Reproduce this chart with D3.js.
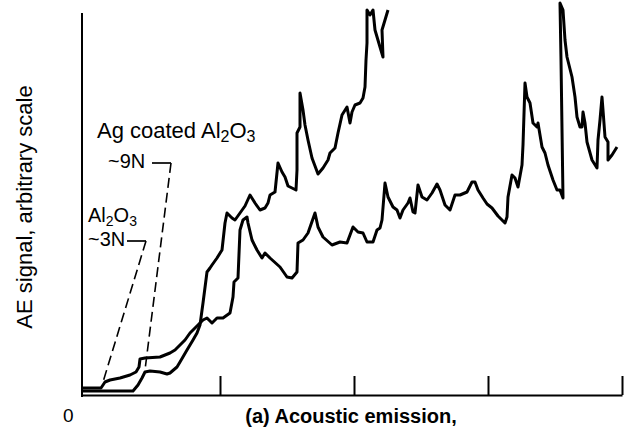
<!DOCTYPE html>
<html>
<head>
<meta charset="utf-8">
<title>AE signal</title>
<script src="https://d3js.org/d3.v7.min.js"></script>
<style>
  body { margin: 0; background: #fff; }
  text { font-family: "Liberation Sans", Arial, Helvetica, sans-serif; fill: #000; }
</style>
</head>
<body>
<div id="chart"></div>
<script>

// データ (x: 時間 arbitrary, y: AE signal arbitrary)
var xTicks = [138, 272, 406, 540];

// Al2O3 (~3N)
var al2o3Signal = [
  [1,7],[19,7],[23,13],[28,15],[38,17],[48,20],[54,23],[57,28],[58,36],[63,37],
  [78,38],[88,42],[93,45],[98,50],[103,55],[108,62],[113,67],[118,72],[121,75],[125,77],
  [130,72],[135,77],[141,77],[148,82],[151,98],[152,113],[156,117],[158,165],[161,175],[165,178],
  [166,172],[170,155],[175,145],[180,137],[183,142],[188,137],[198,128],[205,118],[210,117],[215,123],
  [216,152],[221,155],[226,162],[233,182],[236,168],[241,158],[250,150],[258,153],[265,152],[271,168],
  [276,163],[281,162],[285,153],[291,153],[295,165],[298,167],[300,175],[303,212],[306,198],[311,188],
  [315,185],[318,177],[321,185],[326,192],[328,197],[331,183],[333,182],[336,210],[340,198],[345,195],
  [350,202],[355,211],[358,205],[363,190],[368,185],[373,200],[378,200],[385,203],[390,213],[393,213],
  [396,205],[401,197],[405,191],[410,187],[416,179],[423,172],[425,178],[426,198],[430,220],[433,217],
  [436,208],[440,230],[441,250],[443,312],[445,298],[448,292],[451,272],[455,268],[456,272],[460,248],
  [463,242],[466,230],[471,215],[475,205],[478,205],[481,197],[479,335],[478,392],[481,385],[483,355],
  [485,338],[490,318],[493,298],[495,278],[498,268],[500,268],[501,283],[503,272],[505,253],[510,235],
  [515,227],[516,255],[518,275],[520,298],[521,285],[523,258],[526,253],[526,235],[530,240],[535,248]
];

// Ag coated Al2O3 (~9N)
var agCoatedSignal = [
  [1,4],[51,4],[56,10],[60,17],[63,23],[68,24],[78,23],[85,21],[88,22],[95,28],
  [98,33],[105,45],[111,55],[115,62],[118,70],[121,92],[125,123],[128,127],[130,130],[135,137],
  [140,145],[143,172],[145,182],[150,177],[153,175],[158,182],[163,189],[168,200],[173,192],[178,185],
  [183,187],[186,192],[188,200],[193,203],[196,232],[200,223],[203,218],[206,209],[210,207],[214,205],
  [215,225],[215,262],[218,268],[218,302],[221,285],[223,270],[226,255],[230,237],[236,221],[241,227],
  [246,235],[248,242],[253,247],[256,262],[260,280],[265,288],[268,272],[270,283],[273,290],[278,292],
  [281,297],[283,308],[284,335],[285,352],[285,385],[288,380],[291,385],[293,365],[298,348],[301,338],
  [300,365],[303,375],[306,385]
];

// 注記 (ラベルと破線)
var labels = [
  {parts: [["Ag coated Al", 0], ["2", 1], ["O", 0], ["3", 1]], x: 15, y: 257, size: 22},
  {parts: [["~9N", 0]], x: 26, y: 227, size: 20},
  {parts: [["Al", 0], ["2", 1], ["O", 0], ["3", 1]], x: 6, y: 173, size: 20},
  {parts: [["~3N", 0]], x: 6, y: 149, size: 20}
];
var leaders = [
  {bar: [[70,232],[89,232]], dash: [[89,232],[63,25]]},
  {bar: [[45,154],[64,154]], dash: [[64,154],[21,13]]}
];

var width = 635;
var height = 441;

var x = d3.scaleLinear().domain([0, 540]).range([82, 622]);
var y = d3.scaleLinear().domain([0, 390]).range([395, 5]);

var svg = d3.select("#chart")
  .append("svg")
  .attr("width", width)
  .attr("height", height);

// 軸
svg.append("line")
  .attr("x1", x(0)).attr("x2", x(0))
  .attr("y1", y(-2)).attr("y2", y(382))
  .attr("stroke", "#000").attr("stroke-width", 2);

var xAxis = d3.axisBottom(x)
  .tickValues(xTicks)
  .tickSizeInner(-19)
  .tickSizeOuter(0)
  .tickFormat("");

var gx = svg.append("g")
  .attr("transform", `translate(0,${y(0)})`)
  .call(xAxis);
gx.select(".domain").attr("stroke", "#000").attr("stroke-width", 2);
gx.selectAll(".tick line").attr("stroke", "#000").attr("stroke-width", 2);

// 曲線
var line = d3.line()
  .x(d => x(d[0]))
  .y(d => y(d[1]));

[al2o3Signal, agCoatedSignal].forEach(function(series) {
  svg.append("path")
    .datum(series)
    .attr("d", line)
    .attr("fill", "none")
    .attr("stroke", "#000")
    .attr("stroke-width", 3)
    .attr("stroke-linejoin", "round");
});

// 破線
leaders.forEach(function(l) {
  svg.append("path").datum(l.bar).attr("d", line)
    .attr("fill", "none").attr("stroke", "#000").attr("stroke-width", 1.7);
  svg.append("path").datum(l.dash).attr("d", line)
    .attr("fill", "none").attr("stroke", "#000").attr("stroke-width", 1.6)
    .attr("stroke-dasharray", "10,5");
});

// ラベル
labels.forEach(function(lb) {
  var t = svg.append("text")
    .attr("x", x(lb.x))
    .attr("y", y(lb.y))
    .style("font-size", lb.size + "px");
  var shift = 0;
  lb.parts.forEach(function(p) {
    var dy = (p[1] ? 4 : 0) - shift;
    shift = p[1] ? 4 : 0;
    t.append("tspan")
      .text(p[0])
      .attr("dy", dy)
      .style("font-size", p[1] ? (lb.size - 6) + "px" : lb.size + "px");
  });
});

svg.append("text")
  .attr("x", x(0) - 19)
  .attr("y", y(0) + 27)
  .style("font-size", "19px")
  .text("0");

svg.append("text")
  .attr("x", 351)
  .attr("y", 423)
  .attr("text-anchor", "middle")
  .style("font-size", "20px")
  .style("font-weight", "bold")
  .text("(a) Acoustic emission,");

svg.append("text")
  .attr("transform", "translate(32,207) rotate(-90)")
  .attr("text-anchor", "middle")
  .style("font-size", "22px")
  .text("AE signal, arbitrary scale");

</script>
</body>
</html>
